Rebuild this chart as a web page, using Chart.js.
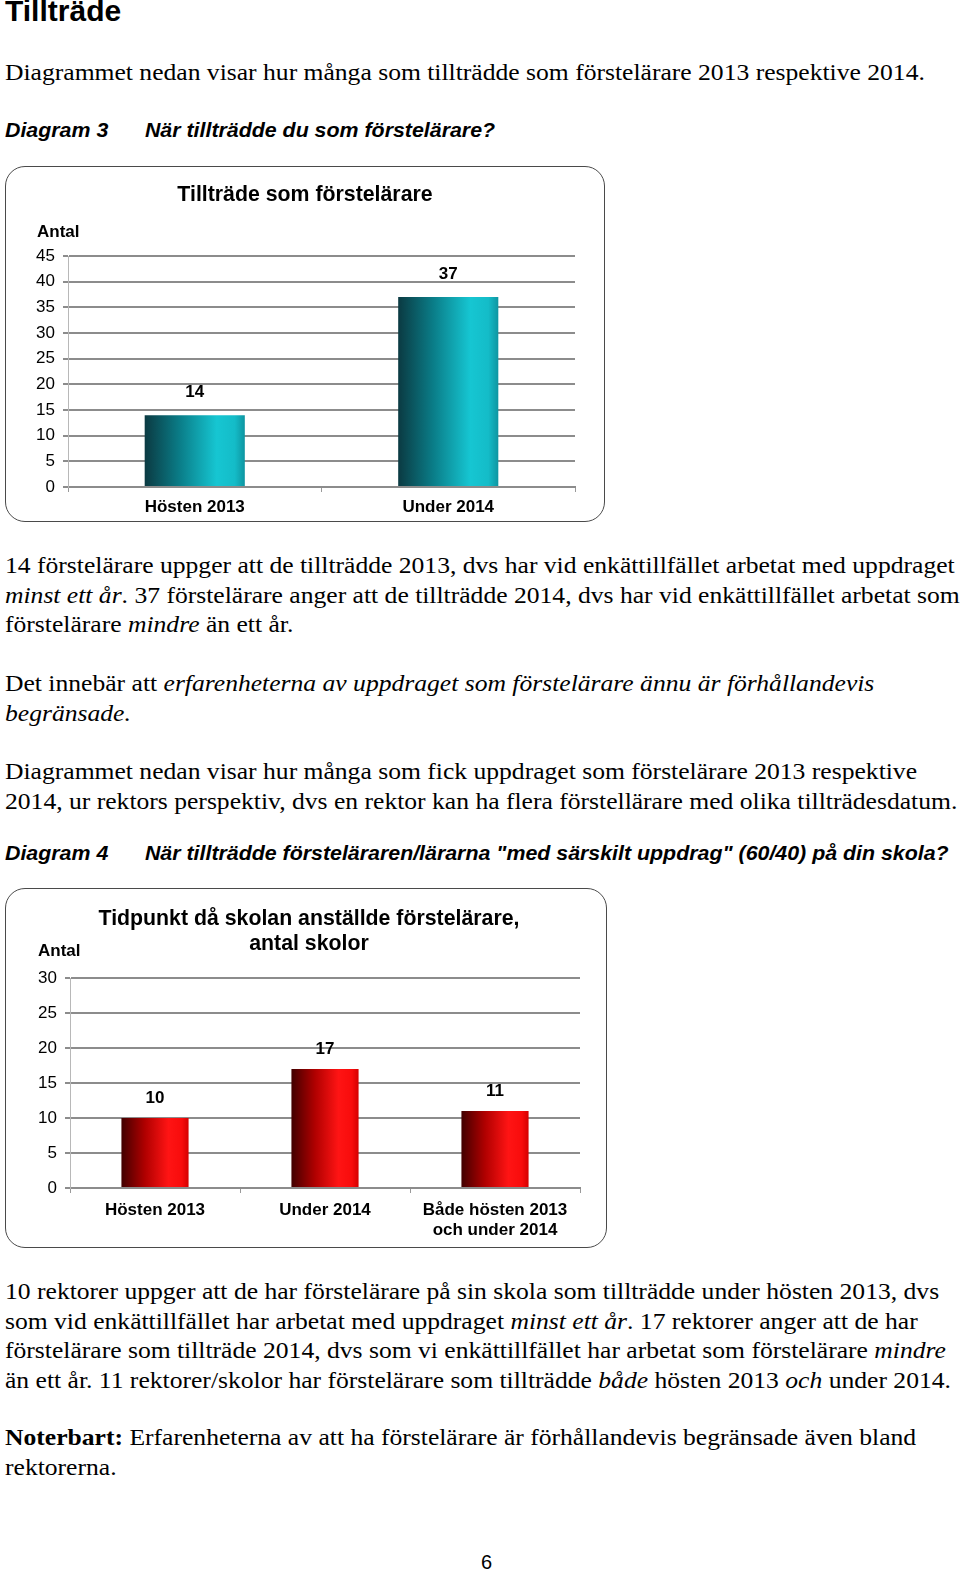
<!DOCTYPE html>
<html lang="sv">
<head>
<meta charset="utf-8">
<title>Tillträde</title>
<script src="https://cdn.jsdelivr.net/npm/chart.js@4.4.1/dist/chart.umd.min.js"></script>
<style>
  html, body { margin: 0; padding: 0; background: #fff; }
  body { position: relative; width: 960px; height: 1571px; overflow: hidden; color: #000; }
  .abs { position: absolute; white-space: nowrap; transform-origin: 0 0; }
  .h1 { font: bold 30px/30px "Liberation Sans", Arial, sans-serif; left: 5px; top: -4px; }
  .p { font: 23px/29.5px "Liberation Serif", "Times New Roman", serif; left: 5px; transform: scaleX(1.113); }
  .cap { font: italic bold 20px/20px "Liberation Sans", Arial, sans-serif; left: 5px; transform: scaleX(1.068); }
  .cap span { position: absolute; left: 131px; }
  .box { position: absolute; }
  .box canvas { position: absolute; left: 0; top: 0; }
  .frame { position: absolute; left: 0; top: 0; right: 0; bottom: 0; border: 1.5px solid #4a4a4a; border-radius: 20px; box-sizing: border-box; pointer-events: none; }
  .pnum { font: 20px/20px "Liberation Sans", Arial, sans-serif; left: 481px; top: 1552px; }
</style>
</head>
<body>

<div class="abs h1">Tillträde</div>
<div class="abs p" style="top:58px">Diagrammet nedan visar hur många som tillträdde som förstelärare 2013 respektive 2014.</div>
<div class="abs cap" style="top:120px">Diagram 3<span>När tillträdde du som förstelärare?</span></div>

<div class="box" style="left:5px; top:166px; width:600px; height:356px;">
  <canvas id="chart1" width="600" height="356"></canvas>
  <div class="frame"></div>
</div>

<div class="abs p" style="top:551px">14 förstelärare uppger att de tillträdde 2013, dvs har vid enkättillfället arbetat med uppdraget<br><i>minst ett år</i>. 37 förstelärare anger att de tillträdde 2014, dvs har vid enkättillfället arbetat som<br>förstelärare <i>mindre</i> än ett år.</div>
<div class="abs p" style="top:669px">Det innebär att <i>erfarenheterna av uppdraget som förstelärare ännu är förhållandevis<br>begränsade.</i></div>
<div class="abs p" style="top:757px">Diagrammet nedan visar hur många som fick uppdraget som förstelärare 2013 respektive<br>2014, ur rektors perspektiv, dvs en rektor kan ha flera förstellärare med olika tillträdesdatum.</div>
<div class="abs cap" style="top:843px">Diagram 4<span>När tillträdde försteläraren/lärarna "med särskilt uppdrag" (60/40) på din skola?</span></div>

<div class="box" style="left:5px; top:888px; width:602px; height:360px;">
  <canvas id="chart2" width="602" height="360"></canvas>
  <div class="frame"></div>
</div>

<div class="abs p" style="top:1277px">10 rektorer uppger att de har förstelärare på sin skola som tillträdde under hösten 2013, dvs<br>som vid enkättillfället har arbetat med uppdraget <i>minst ett år</i>. 17 rektorer anger att de har<br>förstelärare som tillträde 2014, dvs som vi enkättillfället har arbetat som förstelärare <i>mindre</i><br>än ett år. 11 rektorer/skolor har förstelärare som tillträdde <i>både</i> hösten 2013 <i>och</i> under 2014.</div>
<div class="abs p" style="top:1423px"><b>Noterbart:</b> Erfarenheterna av att ha förstelärare är förhållandevis begränsade även bland<br>rektorerna.</div>
<div class="abs pnum">6</div>

<script>
// --- data ---
const diagram3Title = ['Tillträde som förstelärare'];
const diagram3Labels = ['Hösten 2013', 'Under 2014'];
const diagram3Values = [14, 37];
const diagram3Max = 45;
const diagram3Step = 5;

const diagram4Title = ['Tidpunkt då skolan anställde förstelärare,', 'antal skolor'];
const diagram4Labels = ['Hösten 2013', 'Under 2014', ['Både hösten 2013', 'och under 2014']];
const diagram4Values = [10, 17, 11];
const diagram4Max = 30;
const diagram4Step = 5;

const axisTitle = 'Antal';

const FONT = '"Liberation Sans", Arial, sans-serif';
const BAR_PCT = 0.395;

const tealStops = [[0, '#0b3a42'], [0.35, '#0a7d88'], [0.72, '#16c6d2'], [0.9, '#14bcc8'], [1, '#0e95a1']];
const redStops = [[0, '#420000'], [0.35, '#b00000'], [0.7, '#ff1414'], [0.9, '#f80c0c'], [1, '#d40000']];

// gradient per bar, worked out from the x scale
function barGradient(stops) {
    return (ctx) => {
        const chart = ctx.chart;
        const xs = chart.scales.x;
        if (!xs || !chart.chartArea || ctx.dataIndex === undefined) return stops[3][1];
        const cx = xs.getPixelForValue(ctx.dataIndex);
        const w = xs.width / xs.ticks.length * BAR_PCT;
        const g = chart.ctx.createLinearGradient(cx - w / 2, 0, cx + w / 2, 0);
        stops.forEach(([o, c]) => g.addColorStop(o, c));
        return g;
    };
}

// titel, "Antal" och värdeetiketter
const textPlugin = {
    id: 'chartTexts',
    afterDatasetsDraw(chart, args, opts) {
        const c = chart.ctx;
        c.save();
        c.fillStyle = '#000';
        c.textBaseline = 'middle';
        c.textAlign = 'center';
        c.font = 'bold 21.3px ' + FONT;
        opts.title.forEach((t, i) => c.fillText(t, opts.titleX, opts.titleY + i * 25));
        c.textAlign = 'left';
        c.font = 'bold 17px ' + FONT;
        c.fillText(axisTitle, opts.antalX, opts.antalY);
        c.textAlign = 'center';
        const meta = chart.getDatasetMeta(0);
        meta.data.forEach((bar, i) => {
            c.fillText(String(chart.data.datasets[0].data[i]), bar.x, bar.y - opts.labelGap);
        });
        c.restore();
    }
};

function renderChart(id, labels, values, max, step, stops, lay, texts) {
    const ctx = document.getElementById(id).getContext('2d');
    return new Chart(ctx, {
        type: 'bar',
        data: {
            labels: labels,
            datasets: [{
                data: values,
                backgroundColor: barGradient(stops),
                borderWidth: 0,
                barPercentage: BAR_PCT,
                categoryPercentage: 1
            }]
        },
        options: {
            responsive: false,
            animation: false,
            events: [],
            layout: { padding: { left: lay.left, right: lay.right, top: lay.top, bottom: 0 } },
            plugins: {
                legend: { display: false },
                tooltip: { enabled: false },
                chartTexts: texts
            },
            scales: {
                x: {
                    afterFit: (scale) => { scale.height = lay.xHeight; },
                    grid: { drawOnChartArea: false, drawTicks: true, tickLength: 5, color: '#9a9a9a', lineWidth: 1 },
                    border: { color: '#8c8c8c', width: 2 },
                    ticks: { color: '#000', padding: lay.xPad, font: { family: FONT, size: 17, weight: 'bold', lineHeight: 1.2 }, maxRotation: 0 }
                },
                y: {
                    min: 0,
                    max: max,
                    afterFit: (scale) => { scale.width = lay.yWidth; },
                    grid: { color: '#8c8c8c', lineWidth: 2, tickLength: 5 },
                    border: { color: '#b8b8b8', width: 1 },
                    ticks: { stepSize: step, color: '#000', padding: 8, font: { family: FONT, size: 17 } }
                }
            }
        },
        plugins: [textPlugin]
    });
}

renderChart('chart1', diagram3Labels, diagram3Values, diagram3Max, diagram3Step, tealStops,
    { left: 6, right: 30, top: 90, xHeight: 35, yWidth: 57, xPad: 5 },
    { title: diagram3Title, titleX: 300, titleY: 29, antalX: 32, antalY: 66, labelGap: 23 });

renderChart('chart2', diagram4Labels, diagram4Values, diagram4Max, diagram4Step, redStops,
    { left: 6, right: 27, top: 90, xHeight: 60, yWidth: 59, xPad: 7 },
    { title: diagram4Title, titleX: 304, titleY: 31, antalX: 33, antalY: 63, labelGap: 20 });
</script>
</body>
</html>
